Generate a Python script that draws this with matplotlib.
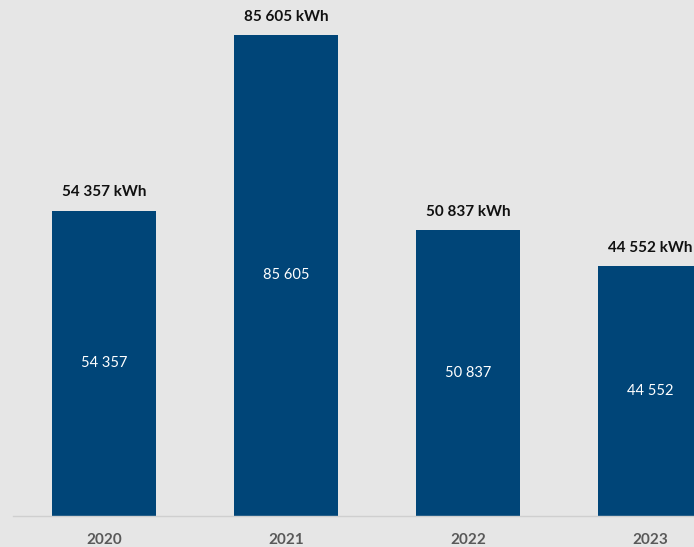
import matplotlib.pyplot as plt

# yearly energy consumption
years = ['2020', '2021', '2022', '2023']
values = [54357, 85605, 50837, 44552]


def fmt(v):
    return f'{v:,}'.replace(',', ' ')


plt.rcParams['font.family'] = ['Lato', 'DejaVu Sans']

bg = '#e6e6e6'
bar_color = '#004578'

fig = plt.figure(figsize=(6.94, 5.47), dpi=100, facecolor=bg)
ax = fig.add_axes([13 / 694, 31 / 547, 681 / 694, 516 / 547], facecolor=bg)

x = list(range(len(years)))
bars = ax.bar(x, values, width=0.571, color=bar_color, zorder=2)

ax.set_xlim(-0.5, 3.242)
ax.set_ylim(0, 91830)

for xi, v in zip(x, values):
    ax.annotate(fmt(v) + ' kWh', (xi, v), xytext=(0, 8), textcoords='offset points',
                ha='center', va='bottom', fontsize=11, fontweight='bold',
                color='#111111', annotation_clip=False)
    ax.text(xi, v / 2, fmt(v), ha='center', va='center', fontsize=10.5, color='white')

ax.set_xticks(x)
ax.set_xticklabels(years, fontsize=11, fontweight='bold', color='#595959')
ax.tick_params(axis='x', length=0, pad=12)
ax.set_yticks([])

for side in ['top', 'right', 'left']:
    ax.spines[side].set_visible(False)
ax.spines['bottom'].set_color('#cfcfcf')
ax.spines['bottom'].set_linewidth(1)

fig.savefig('out.png', dpi=100, facecolor=bg)
